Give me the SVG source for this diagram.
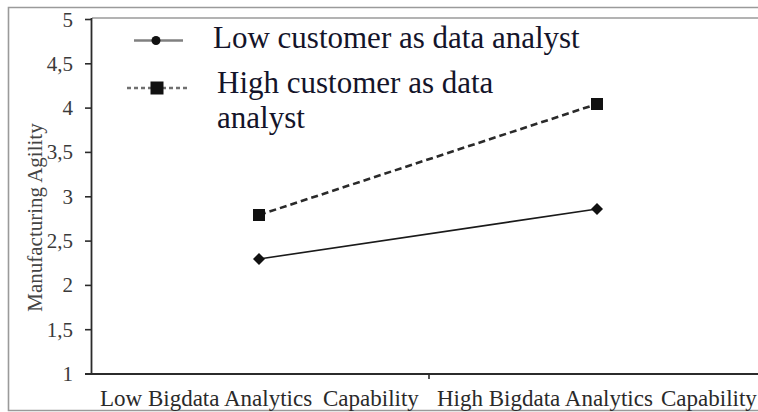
<svg xmlns="http://www.w3.org/2000/svg" width="758" height="412" viewBox="0 0 758 412">
  <style>
    .frame { fill: none; stroke: #9a9a9a; stroke-width: 1.6; }
    .axis { fill: none; stroke: #2b2b2b; stroke-width: 1.8; }
    .tick { stroke: #2b2b2b; stroke-width: 1.6; }
    .tlab { font-family: "Liberation Serif", "Times New Roman", serif; font-size: 21px; fill: #3a3a3a; text-anchor: end; }
    .xlab { font-family: "Liberation Serif", "Times New Roman", serif; font-size: 23px; fill: #2a2a2a; }
    .ytitle { font-family: "Liberation Serif", "Times New Roman", serif; font-size: 21px; fill: #444; text-anchor: middle; }
    .leg { font-family: "Liberation Serif", "Times New Roman", serif; font-size: 31px; fill: #14142a; }
    .solid { fill: none; stroke: #1a1a1a; stroke-width: 1.6; }
    .dashed { fill: none; stroke: #2a2a2a; stroke-width: 2.6; stroke-dasharray: 7 4; }
    .legsolid { stroke: #808080; stroke-width: 2.4; }
    .legdash { stroke: #707070; stroke-width: 2.4; stroke-dasharray: 4 3; }
    .mk { fill: #111; }
  </style>
  <defs>
    <path id="diamond" d="M0,-6 L6,0 L0,6 L-6,0 Z"/>
    <rect id="square" x="-6" y="-6" width="12" height="12"/>
  </defs>

  <rect width="758" height="412" fill="#ffffff"/>

  <!-- outer border and plot top edge -->
  <g id="frame">
    <polyline class="frame" points="760,7.5 8.5,7.5 8.5,410.5 760,410.5"/>
    <line class="frame" x1="92" y1="18" x2="760" y2="18"/>
  </g>

  <!-- axes -->
  <g id="axes">
    <line class="axis" x1="91.5" y1="18" x2="91.5" y2="374"/>
    <line class="axis" x1="85" y1="374" x2="760" y2="374"/>
    <g id="yticks">
      <line class="tick" x1="85" y1="19.5" x2="91.5" y2="19.5"/>
      <line class="tick" x1="85" y1="63.8" x2="91.5" y2="63.8"/>
      <line class="tick" x1="85" y1="108.1" x2="91.5" y2="108.1"/>
      <line class="tick" x1="85" y1="152.4" x2="91.5" y2="152.4"/>
      <line class="tick" x1="85" y1="196.8" x2="91.5" y2="196.8"/>
      <line class="tick" x1="85" y1="241.1" x2="91.5" y2="241.1"/>
      <line class="tick" x1="85" y1="285.4" x2="91.5" y2="285.4"/>
      <line class="tick" x1="85" y1="329.7" x2="91.5" y2="329.7"/>
    </g>
    <line class="tick" x1="429" y1="374" x2="429" y2="379"/>
  </g>

  <!-- y tick labels -->
  <g id="ylabels">
    <text class="tlab" x="73" y="26.5">5</text>
    <text class="tlab" x="73" y="70.8">4,5</text>
    <text class="tlab" x="73" y="115.1">4</text>
    <text class="tlab" x="73" y="159.4">3,5</text>
    <text class="tlab" x="73" y="203.8">3</text>
    <text class="tlab" x="73" y="248.1">2,5</text>
    <text class="tlab" x="73" y="292.4">2</text>
    <text class="tlab" x="73" y="336.7">1,5</text>
    <text class="tlab" x="73" y="381">1</text>
  </g>

  <!-- axis titles -->
  <g id="ytitle">
    <text class="ytitle" transform="translate(42,217.5) rotate(-90)">Manufacturing Agility</text>
  </g>
  <g id="xlabels">
    <text class="xlab" x="100" y="406">Low Bigdata Analytics</text>
    <text class="xlab" x="323" y="406">Capability</text>
    <text class="xlab" x="437" y="406">High Bigdata Analytics</text>
    <text class="xlab" x="661" y="406">Capability</text>
  </g>

  <!-- data series -->
  <g id="connectors">
    <line id="line-low" class="solid" x1="259" y1="259" x2="597" y2="209"/>
    <line id="line-high" class="dashed" x1="259" y1="215" x2="597" y2="104"/>
  </g>
  <g id="series-low">
    <use href="#diamond" class="mk" x="259" y="259"/>
    <use href="#diamond" class="mk" x="597" y="209"/>
  </g>
  <g id="series-high">
    <use href="#square" class="mk" x="259" y="215"/>
    <use href="#square" class="mk" x="597" y="104"/>
  </g>

  <!-- legend -->
  <g id="legend">
    <g id="legend-low">
      <line class="legsolid" x1="134" y1="40.5" x2="183" y2="40.5"/>
      <circle class="mk" cx="156" cy="40.5" r="4.5"/>
      <text class="leg" x="213" y="48">Low customer as data analyst</text>
    </g>
    <g id="legend-high">
      <line class="legdash" x1="127" y1="88" x2="187" y2="88"/>
      <rect class="mk" x="150.5" y="81.5" width="13" height="13"/>
      <text class="leg" x="217" y="93">High customer as data</text>
      <text class="leg" x="217" y="128">analyst</text>
    </g>
  </g>
</svg>
